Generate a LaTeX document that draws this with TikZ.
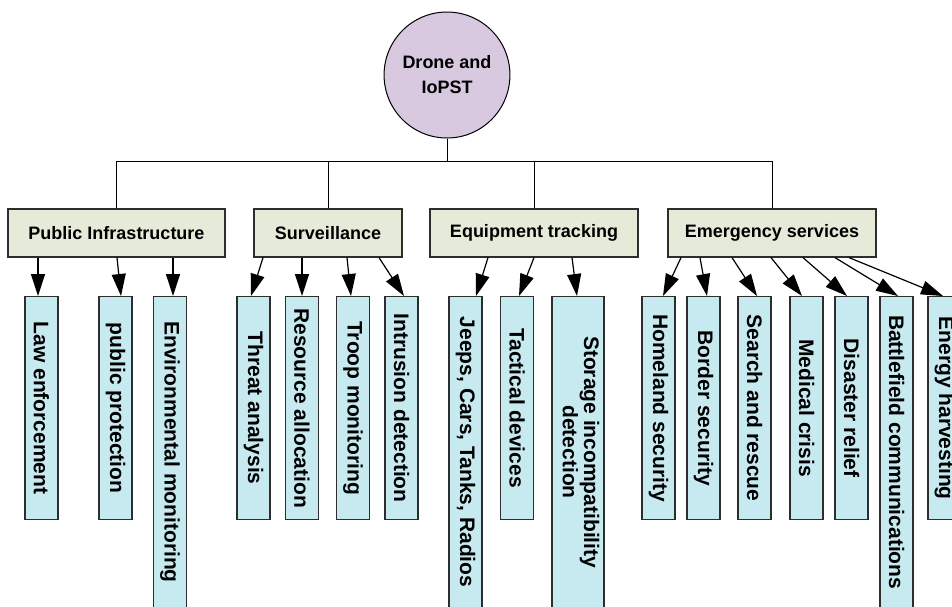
\documentclass[tikz,border=0pt]{standalone}
\usepackage{fontspec}
\setmainfont{Liberation Sans}
\usetikzlibrary{shapes.geometric,arrows.meta}

\definecolor{rootfill}{RGB}{216,201,224}
\definecolor{catfill}{RGB}{230,235,217}
\definecolor{leaffill}{RGB}{199,234,240}
\definecolor{boxline}{RGB}{45,45,45}

\tikzset{
	rootnode/.style={ellipse,draw=black,line width=1pt,fill=rootfill,inner sep=0pt,
		minimum width=111pt,minimum height=126pt,align=center,
		font=\fontsize{18}{25}\selectfont\bfseries},
	catbox/.style={rectangle,draw=boxline,line width=1.2pt,fill=catfill,inner sep=0pt,
		minimum height=48pt,font=\fontsize{18}{22}\selectfont\bfseries},
	leafbox/.style={rectangle,draw=boxline,line width=1.2pt,fill=leaffill,inner sep=0pt,
		anchor=north,font=\fontsize{21}{20}\selectfont\bfseries},
	tree/.style={line width=0.9pt},
	feed/.style={line width=1.2pt,-{Triangle[length=22pt,width=14pt]}}
}

\begin{document}
\begin{tikzpicture}[x=1pt,y=-1pt]
	\useasboundingbox (0,0) rectangle (952,606);
	
	% root and categories
	\node[rootnode] (root) at (447,75) {Drone and\\IoPST};
	\node[catbox,minimum width=217pt] (pi) at (116.5,233) {Public Infrastructure};
	\node[catbox,minimum width=148pt] (sv) at (328,233) {Surveillance};
	\node[catbox,minimum width=208pt] (eq) at (534,233) {Equipment tracking};
	\node[catbox,minimum width=208pt] (em) at (772,233) {Emergency services};
	
	\coordinate (bus) at (447,161);
	\draw[tree] (root.south) -- (bus);
	\draw[tree] (pi.north) -- (pi.north |- bus) -- (em.north |- bus) -- (em.north);
	\draw[tree] (sv.north) -- (sv.north |- bus);
	\draw[tree] (eq.north) -- (eq.north |- bus);
	
	% leaves
	\foreach \n/\x/\w/\h/\t in {law/41.5/33/223/{Law enforcement},
		pp/115.5/33/223/{public protection},
		env/170/33/311/{Environmental monitoring},
		threat/253.5/33/223/{Threat analysis},
		res/302/33/223/{Resource allocation},
		troop/353/33/223/{Troop monitoring},
		intr/401.5/33/223/{Intrusion detection},
		jeeps/465.5/33/311/{Jeeps, Cars, Tanks, Radios},
		tact/517/33/223/{Tactical devices},
		stor/578/52/311/{\begin{tabular}{@{}c@{}}Storage incompatibility\\detection\end{tabular}},
		home/658.5/33/223/{Homeland security},
		border/703.5/33/223/{Border security},
		search/754.5/33/223/{Search and rescue},
		med/806.5/33/223/{Medical crisis},
		dis/851.5/33/223/{Disaster relief},
		battle/896.5/33/311/{Battlefield communications},
		energy/944.5/33/223/{Energy harvesting}}
		\node[leafbox,minimum width=\w pt,minimum height=\h pt] (\n) at (\x,296) {\rotatebox{-90}{\t}};
	
	% arrows
	\foreach \c/\a/\l/\b in {pi/-78.5/law/-3.5, pi/0.5/pp/5.5, pi/56.5/env/3,
		sv/-65/threat/-2.5, sv/-26/res/0, sv/19/troop/-2, sv/51/intr/2.5,
		eq/-46/jeeps/10.5, eq/0/tact/2, eq/38/stor/-1,
		em/-91/home/4.5, em/-72/border/3.5, em/-40/search/2.5, em/-1/med/-4.5,
		em/31/dis/-4.5, em/63/battle/1.5, em/77/energy/-1.5}
		\draw[feed] ([xshift=\a pt]\c.south) -- ([xshift=\b pt]\l.north);
\end{tikzpicture}
\end{document}
